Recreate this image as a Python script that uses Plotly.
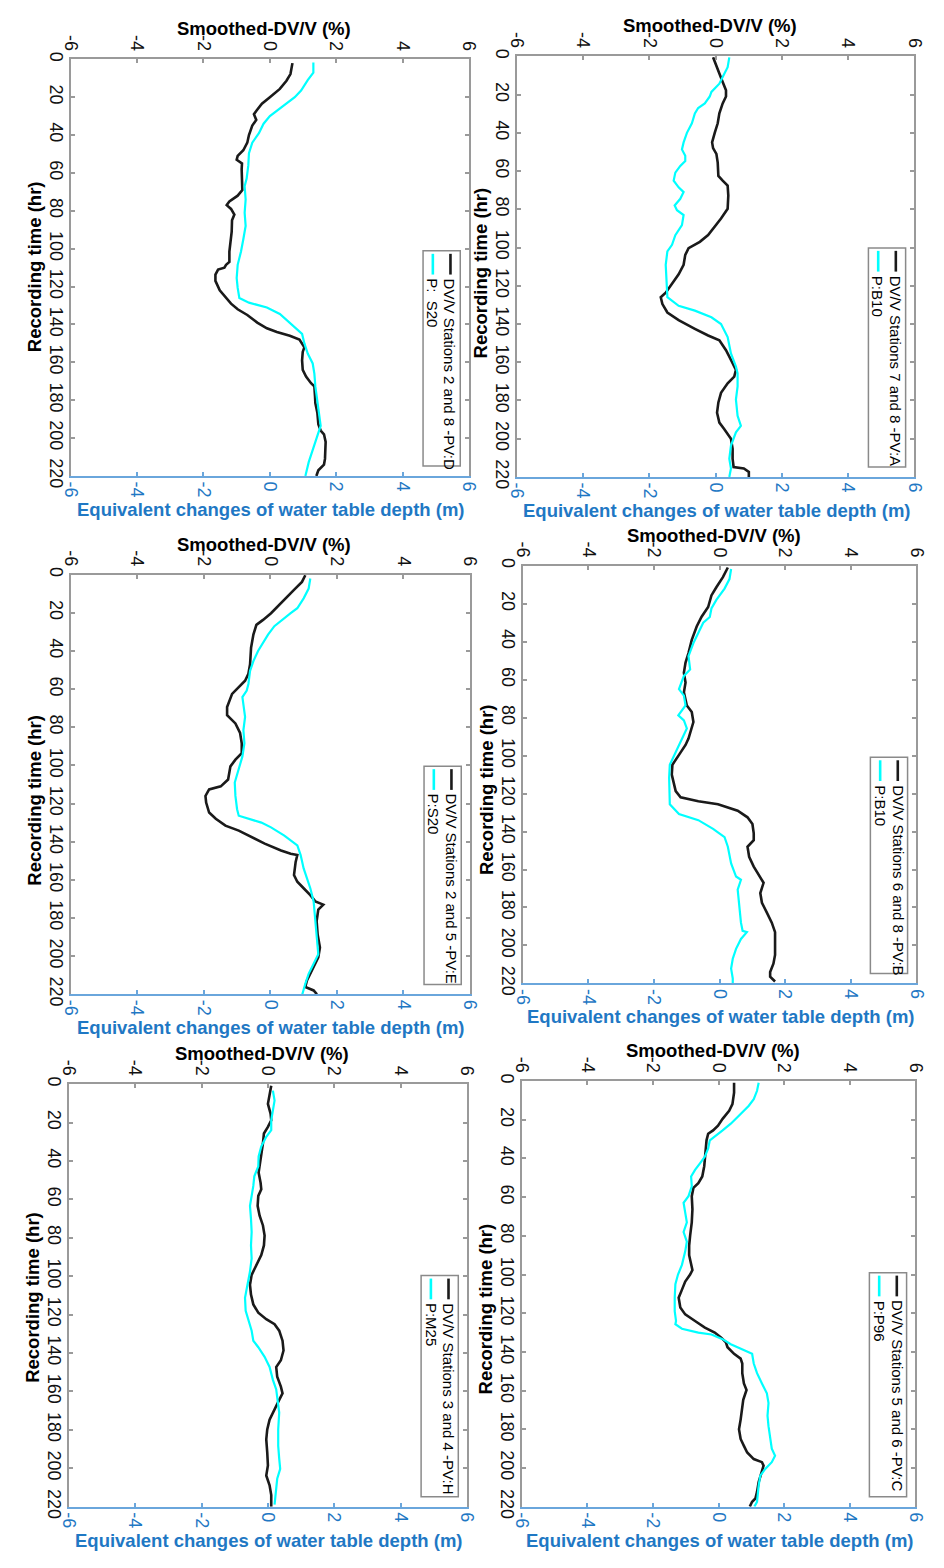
import plotly.graph_objects as go

# ---------------- data ----------------
# Panel PV:D  (Stations 2 and 8, P: S20)
t_D_dvv = [2, 7.8, 11.3, 15.6, 20, 23.4, 27, 29, 32, 35, 40, 44, 48, 51, 53, 55, 58, 65, 69, 72, 75, 77, 79, 82, 85,
           91, 95, 101.5, 107, 108.5, 110, 111, 113.7, 117, 122, 126, 129, 132, 135, 139, 142, 144, 146, 148, 152,
           154.5, 159, 164, 167.5, 171, 172.7, 178, 181.5, 186.6, 192.7, 196, 198, 202, 211, 214, 217, 220]
dvv_D = [0.68, 0.62, 0.5, 0.3, 0.0, -0.24, -0.4, -0.48, -0.41, -0.53, -0.63, -0.68, -0.8, -0.97, -1.0, -0.84, -0.85,
         -0.85, -0.83, -0.97, -1.22, -1.3, -1.17, -1.07, -1.14, -1.15, -1.17, -1.22, -1.22, -1.32, -1.37, -1.56, -1.64,
         -1.64, -1.51, -1.32, -1.17, -0.97, -0.68, -0.38, -0.09, 0.21, 0.6, 0.89, 1.04, 0.99, 0.97, 0.99, 1.09, 1.24,
         1.34, 1.36, 1.37, 1.43, 1.46, 1.53, 1.63, 1.68, 1.66, 1.63, 1.46, 1.4]
t_D_wt = [1.7, 7, 11, 16.5, 20, 23.4, 27, 30, 34, 39, 44, 49.5, 56, 63, 67, 74, 81, 88, 95, 101.5, 108.5, 115.5, 120.7,
          126, 128.5, 131, 134.5, 139, 142, 145, 150, 155.4, 160.6, 166, 172.7, 181.5, 188.4, 193.6, 198.8, 205.7,
          212.7, 220]
wt_D = [1.31, 1.31, 1.14, 0.94, 0.75, 0.5, 0.21, 0.0, -0.19, -0.33, -0.53, -0.63, -0.65, -0.7, -0.76, -0.73, -0.76,
        -0.73, -0.8, -0.87, -0.97, -1.0, -0.97, -0.92, -0.63, -0.09, 0.3, 0.6, 0.8, 0.97, 1.04, 1.14, 1.29, 1.34, 1.37,
        1.43, 1.48, 1.53, 1.43, 1.29, 1.17, 1.07]

# Panel PV:A  (Stations 7 and 8, P:B10)
t_A_dvv = [0.5, 4, 9, 13.4, 17.7, 21, 24.6, 29.8, 35, 40, 45, 48, 51, 55.6, 62.5, 65, 67.6, 72.8, 79.7, 84.8, 90, 93.5,
           97, 100.3, 103.8, 109, 114, 119, 123.6, 126, 129.6, 134, 138, 142.5, 146, 148.5, 153.7, 158.8, 164, 167.5,
           171, 176, 181, 186.4, 191.6, 195, 200, 205.3, 210.5, 214.8, 215.6, 217.4, 220]
dvv_A = [-0.08, -0.01, 0.11, 0.21, 0.31, 0.31, 0.21, 0.11, 0.06, -0.03, -0.11, -0.08, 0.02, 0.06, 0.08, 0.21, 0.36,
         0.38, 0.36, 0.16, -0.08, -0.23, -0.48, -0.82, -0.92, -0.97, -1.12, -1.32, -1.51, -1.66, -1.61, -1.46, -1.12,
         -0.63, -0.23, 0.11, 0.31, 0.46, 0.61, 0.56, 0.36, 0.16, 0.08, 0.04, 0.11, 0.26, 0.46, 0.51, 0.51, 0.54, 0.85,
         1.0, 1.0]
t_A_wt = [0.5, 5.7, 10.8, 14.3, 18.6, 21, 24.6, 27, 29.8, 35, 40, 45, 48.7, 52, 54.7, 57.3, 60.8, 65, 68.5, 71, 74.5,
          78, 80.5, 83, 88.3, 93.5, 98.6, 102, 109, 115.8, 122.7, 126, 130.5, 133, 136.5, 140, 146.8, 155.4, 162.3,
          165.8, 172.6, 179.5, 188, 193.3, 196.7, 203.6, 210.5, 215.6, 220]
wt_A = [0.41, 0.36, 0.21, 0.11, -0.13, -0.18, -0.33, -0.53, -0.63, -0.72, -0.87, -0.97, -1.02, -0.92, -0.92, -1.07,
        -1.22, -1.27, -1.12, -0.97, -1.07, -1.24, -1.17, -0.97, -1.02, -1.22, -1.32, -1.46, -1.51, -1.49, -1.46, -1.46,
        -1.12, -0.63, -0.13, 0.16, 0.36, 0.46, 0.61, 0.66, 0.66, 0.61, 0.66, 0.76, 0.61, 0.46, 0.41, 0.46, 0.41]

# Panel PV:E  (Stations 2 and 5, P:S20)
t_E_dvv = [0.3, 3.8, 8, 12.4, 15, 16.8, 20.2, 23.7, 26.3, 31.4, 38.3, 47, 52, 55.6, 59, 62.5, 69.4, 73.7, 78, 83, 88.4,
           93.6, 97, 100.5, 107.4, 111, 112.6, 116, 119.5, 124.7, 128, 131.6, 134.2, 137.6, 141, 144.6, 146.3, 147,
           150.6, 157.5, 161, 164.4, 168, 171.3, 173, 175.6, 181.7, 188.6, 195.5, 200.7, 205.9, 209.3, 212.8, 216.2,
           218, 220]
dvv_E = [1.05, 0.95, 0.71, 0.47, 0.32, 0.22, 0.02, -0.22, -0.42, -0.51, -0.58, -0.61, -0.66, -0.76, -0.95, -1.15,
         -1.3, -1.3, -1.05, -0.91, -0.86, -0.86, -1.05, -1.2, -1.27, -1.49, -1.84, -1.95, -1.93, -1.84, -1.64, -1.35,
         -0.95, -0.56, -0.17, 0.32, 0.61, 0.81, 0.76, 0.71, 0.81, 1.0, 1.2, 1.35, 1.59, 1.44, 1.39, 1.42, 1.49, 1.44,
         1.3, 1.2, 1.1, 1.05, 1.3, 1.4]
t_E_wt = [2, 7.3, 12.4, 17.6, 20.2, 23.7, 27, 31.4, 35.7, 40, 45.3, 50.4, 57.3, 60.8, 64.2, 67.7, 74.6, 81.5, 88.4,
          95.3, 102, 109, 116, 123, 126.4, 130, 132.5, 136.8, 142, 147, 154, 164.4, 171.3, 181.7, 188.6, 199, 204,
          209.3, 214.5, 220]
wt_E = [1.2, 1.15, 1.0, 0.81, 0.61, 0.37, 0.12, -0.07, -0.22, -0.37, -0.51, -0.61, -0.66, -0.71, -0.84, -0.81, -0.76,
        -0.81, -0.78, -0.84, -0.95, -1.07, -1.05, -1.0, -0.95, -0.27, 0.02, 0.42, 0.81, 0.91, 1.0, 1.2, 1.3, 1.35,
        1.39, 1.44, 1.3, 1.15, 1.05, 0.96]

# Panel PV:B  (Stations 6 and 8, P:B10)
t_B_dvv = [0.9, 6, 11.3, 15.6, 21.7, 26.8, 32, 39, 46, 51, 56.3, 61.5, 66.7, 73.6, 77, 82.3, 91, 94.4, 99.6, 104.8,
           110, 115, 118.7, 122, 124, 125.6, 129, 132.5, 136, 141, 144.6, 148, 153.3, 158.5, 163.7, 167, 172.4, 177.5,
           182.7, 188, 193, 200, 205, 209.6, 214, 216.5, 219]
dvv_B = [0.25, 0.1, -0.1, -0.25, -0.35, -0.55, -0.7, -0.85, -0.95, -1.04, -1.09, -1.04, -1.09, -1.0, -0.85, -0.8,
         -0.95, -1.04, -1.24, -1.44, -1.46, -1.39, -1.34, -1.19, -0.65, -0.05, 0.55, 0.85, 1.0, 1.04, 1.04, 0.85, 0.9,
         1.04, 1.24, 1.34, 1.24, 1.29, 1.44, 1.59, 1.69, 1.69, 1.69, 1.64, 1.54, 1.54, 1.69]
t_B_wt = [1.7, 7, 12, 18, 22.5, 27, 30, 35.5, 40.7, 47.6, 54.6, 58, 65, 68.4, 73.6, 78.8, 81.4, 85.7, 91, 98, 104.8,
          111.7, 118.7, 125.6, 130.8, 134, 138.6, 143, 148, 156.8, 163.7, 165.4, 170.6, 181, 188, 192.3, 193, 196.6,
          201.8, 207, 212.2, 217.4, 220]
wt_B = [0.35, 0.3, 0.15, -0.1, -0.25, -0.3, -0.5, -0.65, -0.8, -0.95, -0.9, -1.09, -1.24, -1.09, -1.04, -1.26, -1.09,
        -1.0, -1.14, -1.34, -1.52, -1.54, -1.52, -1.52, -1.24, -0.65, -0.2, 0.15, 0.25, 0.35, 0.5, 0.65, 0.55, 0.6,
        0.65, 0.7, 0.83, 0.65, 0.5, 0.4, 0.35, 0.4, 0.4]

# Panel PV:H  (Stations 3 and 4, P:M25)
t_H_dvv = [0.9, 5, 10.3, 15.4, 18.8, 22.3, 25.7, 30.8, 36, 42.8, 46, 51.4, 54.8, 58.2, 63.4, 68.5, 73.6, 78.8, 84, 89,
           94, 99.3, 104.5, 109.6, 114.7, 119, 122.4, 125, 128.4, 133.6, 138.7, 143.8, 147.3, 152.4, 157.5, 161, 164.4,
           169.5, 174.7, 179.8, 185, 191.8, 198.6, 203.8, 208.9, 214, 220]
dvv_H = [0.1, 0.05, 0.0, 0.08, 0.1, 0.0, -0.12, -0.15, -0.2, -0.25, -0.28, -0.22, -0.2, -0.29, -0.31, -0.25, -0.15,
         -0.1, -0.12, -0.2, -0.34, -0.49, -0.54, -0.51, -0.44, -0.29, -0.05, 0.2, 0.34, 0.44, 0.47, 0.39, 0.25, 0.28,
         0.39, 0.44, 0.34, 0.2, 0.05, -0.02, -0.05, -0.02, 0.0, -0.05, 0.05, 0.1, 0.1]
t_H_wt = [3.4, 8.6, 13.7, 18.8, 24, 27.4, 32.5, 37.7, 42.8, 48, 53, 58.2, 63.4, 70.2, 77, 84, 90.8, 97.6, 104.5, 111.3,
          118, 123.3, 128.4, 133.6, 137, 142, 147.3, 154, 159, 164.4, 171, 179.8, 188.4, 195, 200.3, 205.5, 212.3, 219]
wt_H = [0.15, 0.2, 0.15, 0.1, 0.1, -0.05, -0.2, -0.28, -0.29, -0.41, -0.44, -0.49, -0.54, -0.51, -0.49, -0.51, -0.49,
        -0.54, -0.61, -0.69, -0.67, -0.59, -0.49, -0.44, -0.29, -0.1, 0.05, 0.15, 0.25, 0.29, 0.34, 0.31, 0.31, 0.34,
        0.37, 0.28, 0.25, 0.2]

# Panel PV:C  (Stations 5 and 6, P:P96)
t_C_dvv = [0.8, 6, 11.9, 15.3, 19.5, 23, 25.5, 27.2, 30.6, 37.4, 44, 49.3, 52.7, 55.2, 59.5, 66.3, 73, 79.9, 85, 90, 95,
           97.7, 100, 103.6, 108.7, 112, 117, 120.6, 124, 127.4, 130, 132.5, 135, 137.6, 141, 143.5, 146, 151, 156.3,
           159.7, 164.8, 169.9, 175, 180, 185, 188.6, 192, 195.4, 197, 198.8, 202, 207.3, 212.4, 215.8, 217.5, 220]
dvv_C = [0.47, 0.47, 0.42, 0.32, 0.12, -0.02, -0.17, -0.32, -0.37, -0.4, -0.44, -0.5, -0.62, -0.77, -0.82, -0.8, -0.82,
         -0.87, -0.9, -0.9, -0.82, -0.8, -0.87, -1.02, -1.14, -1.22, -1.17, -1.02, -0.72, -0.42, -0.12, 0.07, 0.22,
         0.27, 0.47, 0.67, 0.72, 0.72, 0.77, 0.85, 0.75, 0.72, 0.67, 0.62, 0.67, 0.77, 0.87, 1.07, 1.32, 1.37, 1.32,
         1.22, 1.17, 1.12, 1.02, 0.95]
t_C_wt = [0.8, 5, 9.3, 12.7, 17, 22, 25.5, 28, 30.6, 34.8, 39, 42.5, 45.9, 49.3, 54.4, 59.5, 62.9, 68, 73, 78, 83, 88,
          95, 100, 105, 112, 119, 124, 125.7, 128, 130, 131, 133.4, 136, 138.5, 141, 146, 151, 156.3, 161.4, 166.5,
          173, 178.4, 185, 190, 193.7, 197, 200.5, 204, 209, 214, 217.5, 220]
wt_C = [1.22, 1.17, 1.07, 0.92, 0.67, 0.37, 0.12, -0.07, -0.27, -0.32, -0.42, -0.57, -0.72, -0.84, -0.82, -0.92, -1.07,
        -1.02, -0.97, -1.07, -0.97, -1.02, -1.12, -1.24, -1.32, -1.34, -1.34, -1.3, -1.32, -1.12, -0.62, -0.22, 0.12,
        0.37, 0.67, 1.02, 1.07, 1.17, 1.32, 1.47, 1.52, 1.49, 1.52, 1.57, 1.62, 1.72, 1.62, 1.42, 1.27, 1.22, 1.19,
        1.17, 1.09]

# labels
dvv_labels = ["DV/V Stations 2 and 8 -PV:D", "DV/V Stations 7 and 8 -PV:A",
              "DV/V Stations 2 and 5 -PV:E", "DV/V Stations 6 and 8 -PV:B",
              "DV/V Stations 3 and 4 -PV:H", "DV/V Stations 5 and 6 -PV:C"]
wt_labels = ["P:  S20", "P:B10", "P:S20", "P:B10", "P:M25", "P:P96"]

time_ticks = [0, 20, 40, 60, 80, 100, 120, 140, 160, 180, 200, 220]
value_ticks = [-6, -4, -2, 0, 2, 4, 6]

series = [(t_D_dvv, dvv_D, t_D_wt, wt_D), (t_A_dvv, dvv_A, t_A_wt, wt_A),
          (t_E_dvv, dvv_E, t_E_wt, wt_E), (t_B_dvv, dvv_B, t_B_wt, wt_B),
          (t_H_dvv, dvv_H, t_H_wt, wt_H), (t_C_dvv, dvv_C, t_C_wt, wt_C)]
for s in series:
    assert len(s[0]) == len(s[1]) and len(s[2]) == len(s[3])

# ---------------- layout (pixel boxes of each panel) ----------------
W, H = 944, 1568
boxes = [(62, 52, 469, 474), (518, 49, 924, 475),
         (62, 574, 470, 999), (524, 565, 926, 988),
         (60, 1090, 467, 1518), (523, 1087, 925, 1518)]
rec_dy = [-1, 6, 16, 15, 2, 15]

FONT = "Arial, Liberation Sans, sans-serif"
GRAY = "#9a9a9a"
BLUE = "#1f78c4"
BLUE_LINE = "#6aa6dc"


def px(x):
    return x / W


def py(y):
    return 1 - y / H


fig = go.Figure()
layout = dict(width=W, height=H, margin=dict(l=0, r=0, t=0, b=0), showlegend=False,
              paper_bgcolor="white", plot_bgcolor="white", font=dict(family=FONT, color="black"))
annotations = []
shapes = []

for i, (box, (td, vd, tw, vw)) in enumerate(zip(boxes, series), start=1):
    x0, y0, x1, y1 = box
    k = "" if i == 1 else str(i)
    kx2 = str(i + 6)
    layout["xaxis" + k] = dict(
        domain=[px(x0), px(x1)], anchor="y" + k, side="top", range=[-6, 6],
        tickvals=value_ticks, ticktext=[str(v) for v in value_ticks], tickangle=90,
        ticks="inside", ticklen=4, tickcolor=GRAY, tickwidth=1.5,
        showline=True, linecolor=GRAY, linewidth=2, mirror=False,
        showgrid=False, zeroline=False, tickfont=dict(size=18, color="#111"))
    layout["xaxis" + kx2] = dict(
        overlaying="x" + k, anchor="y" + k, side="bottom", range=[-6, 6],
        tickvals=value_ticks, ticktext=[str(v) for v in value_ticks], tickangle=90,
        ticks="inside", ticklen=4, tickcolor=BLUE_LINE, tickwidth=1.5,
        showline=True, linecolor=BLUE_LINE, linewidth=2,
        showgrid=False, zeroline=False, tickfont=dict(size=18, color=BLUE))
    layout["yaxis" + k] = dict(
        domain=[py(y1), py(y0)], anchor="x" + k, range=[220, 0],
        tickvals=time_ticks, ticktext=[str(v) for v in time_ticks], tickangle=90,
        ticks="inside", ticklen=4, tickcolor=GRAY, tickwidth=1.5, ticklabelstandoff=-3,
        showline=True, linecolor=GRAY, linewidth=2, mirror="ticks",
        showgrid=False, zeroline=False, tickfont=dict(size=18, color="#111"))

    fig.add_trace(go.Scatter(x=vw, y=tw, xaxis="x" + kx2, yaxis="y" + k, mode="lines",
                             line=dict(color="#00ffff", width=2.2), name=wt_labels[i - 1]))
    fig.add_trace(go.Scatter(x=vd, y=td, xaxis="x" + k, yaxis="y" + k, mode="lines",
                             line=dict(color="#1a1a1a", width=2.6), name=dvv_labels[i - 1]))

    cx = (x0 + x1) / 2
    cy = (y0 + y1) / 2
    annotations.append(dict(text="<b>Smoothed-DV/V (%)</b>", x=px(cx - 6), y=py(y0 - 31), xref="paper",
                            yref="paper", showarrow=False, xanchor="center", yanchor="middle",
                            font=dict(size=18.5, color="black")))
    annotations.append(dict(text="<b>Equivalent changes of water table depth (m)</b>", x=px(cx + 1), y=py(y1 + 34),
                            xref="paper", yref="paper", showarrow=False, xanchor="center", yanchor="middle",
                            font=dict(size=18.5, color=BLUE)))
    annotations.append(dict(text="<b>Recording time (hr)</b>", x=px(x0 - 37), y=py(cy + rec_dy[i - 1]),
                            xref="paper", yref="paper", showarrow=False, xanchor="center", yanchor="middle",
                            textangle=-90, font=dict(size=18.5, color="black")))

    # rotated legend box
    lx1 = x1 - 9
    lx0 = lx1 - 38
    ly0 = y0 + 194
    ly1 = y1 - 10
    shapes.append(dict(type="rect", xref="paper", yref="paper", x0=px(lx0), x1=px(lx1), y0=py(ly1), y1=py(ly0),
                       line=dict(color="#8a8a8a", width=1.5), fillcolor="white", layer="above"))
    for xoff, col, lw, label in [(28, "#1a1a1a", 2.6, dvv_labels[i - 1]), (10, "#00ffff", 2.6, wt_labels[i - 1])]:
        shapes.append(dict(type="line", xref="paper", yref="paper", x0=px(lx0 + xoff), x1=px(lx0 + xoff),
                           y0=py(ly0 + 3), y1=py(ly0 + 24), line=dict(color=col, width=lw), layer="above"))
        annotations.append(dict(text=label, x=px(lx0 + xoff), y=py(ly0 + 26), xref="paper", yref="paper",
                                showarrow=False, xanchor="center", yanchor="top", textangle=90,
                                font=dict(size=15, color="black")))

layout["annotations"] = annotations
layout["shapes"] = shapes
fig.update_layout(**layout)
fig.write_html("out.html", config={"displayModeBar": False},
               post_script="document.body.style.margin='0px';")
